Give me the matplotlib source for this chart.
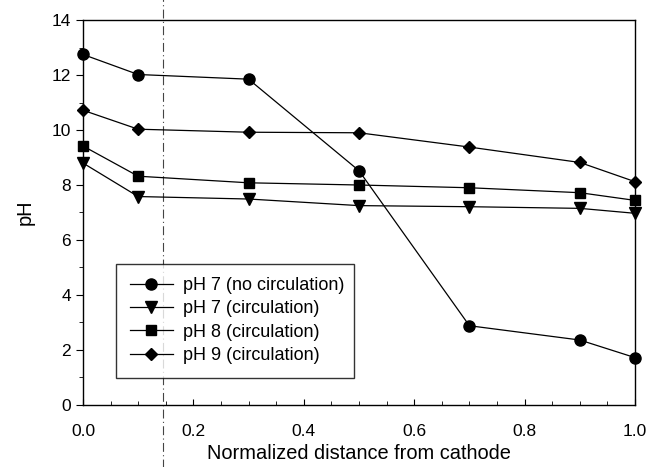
import matplotlib
matplotlib.use("Agg")
from matplotlib import pyplot as plt
from matplotlib.ticker import MultipleLocator

plt.rcParams['font.family'] = ['Liberation Sans', 'DejaVu Sans']

# normalized distance from cathode
distance = [0.0, 0.1, 0.3, 0.5, 0.7, 0.9, 1.0]

ph7_no_circ = [12.75, 12.02, 11.85, 8.52, 2.88, 2.36, 1.72]
ph7_circ = [8.8, 7.58, 7.49, 7.25, 7.21, 7.15, 6.97]
ph8_circ = [9.42, 8.32, 8.08, 8.0, 7.9, 7.72, 7.44]
ph9_circ = [10.72, 10.03, 9.92, 9.9, 9.38, 8.82, 8.12]

series = [
    (ph7_no_circ, 'o', 'pH 7 (no circulation)'),
    (ph7_circ, 'v', 'pH 7 (circulation)'),
    (ph8_circ, 's', 'pH 8 (circulation)'),
    (ph9_circ, 'D', 'pH 9 (circulation)'),
]
marker_size = {'o': 8, 'v': 8, 's': 7, 'D': 6.5}

# scan fold line in the original figure
fold_x = 0.145

fig = plt.figure(figsize=(6.48, 4.67), dpi=100)
ax = fig.add_axes([0.128, 0.133, 0.852, 0.824])

for values, marker, label in series:
    ax.plot(distance, values, marker=marker, color='black', lw=0.9,
            markersize=marker_size[marker], label=label, clip_on=False, zorder=3)

ax.axvline(fold_x, ymin=-0.2, ymax=1.1, color='#444444', lw=0.8,
           linestyle=(0, (8, 3, 1, 3)), clip_on=False, zorder=1)

ax.set_xlim(0, 1.0)
ax.set_ylim(0, 14)
ax.xaxis.set_major_locator(MultipleLocator(0.2))
ax.xaxis.set_minor_locator(MultipleLocator(0.05))
ax.yaxis.set_major_locator(MultipleLocator(2))
ax.yaxis.set_minor_locator(MultipleLocator(1))
ax.xaxis.set_major_formatter(matplotlib.ticker.FormatStrFormatter('%.1f'))

ax.tick_params(axis='x', which='both', direction='in', top=False, labelsize=12.5, pad=14)
ax.tick_params(axis='x', which='major', length=4)
ax.tick_params(axis='x', which='minor', length=3)
ax.tick_params(axis='y', which='both', direction='out', right=False, labelsize=12.5)
ax.tick_params(axis='y', which='major', length=5)
ax.tick_params(axis='y', which='minor', length=3)

for spine in ax.spines.values():
    spine.set_linewidth(1.0)

ax.set_xlabel('Normalized distance from cathode', fontsize=14.4, labelpad=3)
ax.set_ylabel('pH', fontsize=14.4, labelpad=12)

leg = ax.legend(loc='lower left', bbox_to_anchor=(0.06, 0.071, 0.431, 0.286),
                mode='expand', fontsize=13, frameon=True, fancybox=False,
                edgecolor='black', handlelength=2.4, handletextpad=0.55,
                labelspacing=0.35, borderpad=0.75, borderaxespad=0)
leg.get_frame().set_linewidth(1.0)

fig.savefig('out.png', dpi=100)
